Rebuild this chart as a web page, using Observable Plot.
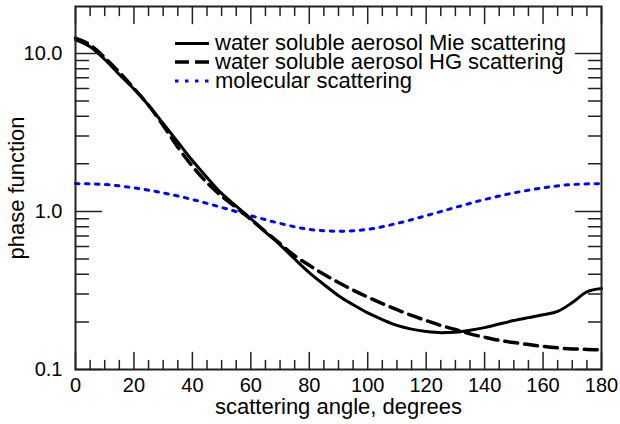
<!DOCTYPE html>
<html><head><meta charset="utf-8">
<script src="https://cdn.jsdelivr.net/npm/d3@7"></script>
<script src="https://cdn.jsdelivr.net/npm/@observablehq/plot@0.6"></script>
<style>
body{margin:0;background:#fff;}
#wrap{position:relative;width:620px;height:424px;}
#legend{position:absolute;left:0;top:0;pointer-events:none;}
</style></head><body><div id="wrap"></div>
<script>
// scattering angle (degrees)
const angles = [0,5,10,15,20,25,30,35,40,45,50,55,60,65,70,75,80,85,90,95,100,105,110,115,120,125,130,135,140,145,150,155,160,165,170,175,180];
// water soluble aerosol, Mie scattering
const mie = [12.2,11.0,9.15,7.35,5.95,4.7,3.6,2.75,2.1,1.64,1.3,1.08,0.9,0.74,0.615,0.5,0.41,0.345,0.293,0.257,0.228,0.207,0.19,0.18,0.174,0.171,0.172,0.177,0.184,0.194,0.204,0.213,0.222,0.233,0.265,0.31,0.325];
// water soluble aerosol, HG scattering
const hg = [12.5,11.3,9.4,7.6,6.0,4.7,3.5,2.55,1.93,1.52,1.25,1.06,0.89,0.745,0.625,0.525,0.456,0.4,0.355,0.318,0.287,0.261,0.239,0.22,0.204,0.19,0.179,0.168,0.16,0.153,0.148,0.144,0.14,0.137,0.135,0.134,0.133];
// molecular scattering
const molAngles = [0,10,20,30,40,50,60,70,80,90,100,110,120,130,140,150,160,170,180];
const molecular = [1.5,1.48,1.41,1.31,1.19,1.06,0.94,0.84,0.77,0.75,0.77,0.84,0.94,1.06,1.19,1.31,1.41,1.48,1.5];

const xMajor = [0,20,40,60,80,100,120,140,160,180];
const xMinor = [5,10,15,25,30,35,45,50,55,65,70,75,85,90,95,105,110,115,125,130,135,145,150,155,165,170,175];
const yMajor = [0.1,1,10];
const yMinor = [0.2,0.3,0.4,0.5,0.6,0.7,0.8,0.9,2,3,4,5,6,7,8,9];

const seriesNames = ["water soluble aerosol Mie scattering","water soluble aerosol HG scattering","molecular scattering"];
const xLabel = "scattering angle, degrees";
const yLabel = "phase function";

const F = "'Liberation Sans', Arial, Helvetica, sans-serif";
const mieData = angles.map((a,i)=>({a, v: mie[i]}));
const hgData = angles.map((a,i)=>({a, v: hg[i]}));
const molData = molAngles.map((a,i)=>({a, v: molecular[i]}));

const styles = [
  {stroke:"#000", strokeWidth:3, dash:null, legendDash:null},
  {stroke:"#000", strokeWidth:3.5, dash:"13,7", legendDash:"14,6"},
  {stroke:"#0000ff", strokeWidth:3, dash:"3.5,6.5", legendDash:"3.5,6.5"}
];

const straight = {draw(ctx, l){ ctx.moveTo(0,0); ctx.lineTo(0,-l); }};
const tk = (data, opts) => (opts.dir === "x" ? Plot.vectorX : Plot.vectorY)(data, {
  [opts.dir]: d => d, frameAnchor: opts.anchor, length: opts.len, rotate: opts.rot,
  anchor: "start", shape: straight, stroke: "#222", strokeWidth: 1.5
});

const chart = Plot.plot({
  width: 620, height: 424,
  marginLeft: 75, marginRight: 19, marginTop: 6, marginBottom: 55,
  style: {fontFamily: F, fontSize: "20px", color: "#000", background: "#fff", overflow: "visible"},
  x: {domain: [0, 180]},
  y: {type: "log", domain: [0.1, 19.8]},
  marks: [
    Plot.line(molData, {x:"a", y:"v", stroke: styles[2].stroke, strokeWidth: styles[2].strokeWidth, strokeDasharray: styles[2].dash, curve:"monotone-x"}),
    Plot.line(hgData, {x:"a", y:"v", stroke: styles[1].stroke, strokeWidth: styles[1].strokeWidth, strokeDasharray: styles[1].dash, curve:"monotone-x"}),
    Plot.line(mieData, {x:"a", y:"v", stroke: styles[0].stroke, strokeWidth: styles[0].strokeWidth, curve:"monotone-x"}),
    tk(xMajor, {dir:"x", anchor:"bottom", len:17, rot:0}),
    tk(xMinor, {dir:"x", anchor:"bottom", len:9, rot:0}),
    tk(xMajor, {dir:"x", anchor:"top", len:17, rot:180}),
    tk(xMinor, {dir:"x", anchor:"top", len:9, rot:180}),
    tk(yMajor, {dir:"y", anchor:"left", len:26, rot:90}),
    tk(yMinor, {dir:"y", anchor:"left", len:13, rot:90}),
    tk(yMajor, {dir:"y", anchor:"right", len:26, rot:-90}),
    tk(yMinor, {dir:"y", anchor:"right", len:13, rot:-90}),
    Plot.frame({stroke:"#222", strokeWidth:2}),
    Plot.axisX({ticks: xMajor, tickSize: 0, tickPadding: 8, fontSize: 20, label: null}),
    Plot.axisY({ticks: yMajor, tickSize: 0, tickPadding: 13, fontSize: 20, tickFormat: d => d.toFixed(1), label: null}),
    Plot.text([xLabel], {text: d => d, frameAnchor: "bottom", dy: 37, fontSize: 22, lineAnchor: "middle", textAnchor: "middle", fill: "#000"}),
    Plot.text([yLabel], {text: d => d, frameAnchor: "left", dx: -59, rotate: -90, fontSize: 22, lineAnchor: "middle", textAnchor: "middle", fill: "#000"})
  ]
});
const wrap = document.getElementById("wrap");
wrap.appendChild(chart);

// legend overlay
const ns = "http://www.w3.org/2000/svg";
const lg = document.createElementNS(ns, "svg");
lg.setAttribute("id","legend"); lg.setAttribute("width","620"); lg.setAttribute("height","424");
const rowY = [43.5, 62, 81];
seriesNames.forEach((name, i) => {
  const s = styles[i];
  const ln = document.createElementNS(ns, "line");
  ln.setAttribute("x1", 175); ln.setAttribute("x2", 209);
  ln.setAttribute("y1", rowY[i]); ln.setAttribute("y2", rowY[i]);
  ln.setAttribute("stroke", s.stroke); ln.setAttribute("stroke-width", s.strokeWidth);
  if (s.legendDash) ln.setAttribute("stroke-dasharray", s.legendDash);
  lg.appendChild(ln);
  const t = document.createElementNS(ns, "text");
  t.setAttribute("x", 215); t.setAttribute("y", rowY[i] + 6.5);
  t.setAttribute("font-family", F); t.setAttribute("font-size", "22");
  t.textContent = name;
  lg.appendChild(t);
});
wrap.appendChild(lg);
</script></body></html>
